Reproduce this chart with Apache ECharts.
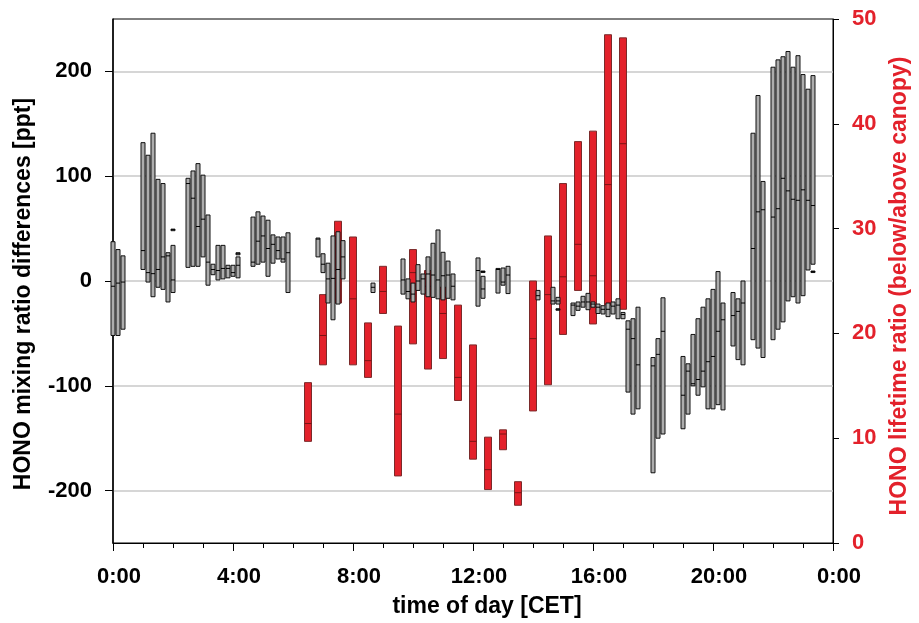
<!DOCTYPE html>
<html>
<head>
<meta charset="utf-8">
<script src="https://cdn.jsdelivr.net/npm/echarts@6/dist/echarts.min.js"></script>
<style>
  html, body { margin: 0; padding: 0; background: #fff; }
  #chart { width: 919px; height: 623px; }
</style>
</head>
<body>
<div id="chart"></div>
<script>
// gray boxes: HONO mixing ratio differences [ppt] (left axis)
const grayTime = [0, 0.167, 0.333,
  1, 1.167, 1.333, 1.5, 1.667, 1.833, 2, 2,
  2.5, 2.667, 2.833, 3, 3.167, 3.333, 3.5, 3.667, 3.833, 4, 4.167, 4.167,
  4.667, 4.833, 5, 5.167, 5.333, 5.5, 5.667, 5.833,
  6.833, 7, 7.167, 7.333, 7.5, 7.667,
  8.667,
  9.667, 9.833, 10, 10.167, 10.333, 10.5, 10.667, 10.833, 11, 11.167, 11.333,
  12.167, 12.333, 12.333, 12.833, 13, 13.167,
  14.167, 14.667, 14.833, 14.833, 15.333, 15.5, 15.667, 15.833, 16, 16.167, 16.333, 16.5, 16.667, 16.833, 17, 17.167, 17.333, 17.5,
  18, 18.167, 18.333,
  19, 19.167, 19.333, 19.5, 19.667, 19.833, 20, 20.167, 20.333, 20.667, 20.833, 21,
  21.333, 21.5, 21.667, 22, 22.167, 22.333, 22.5, 22.667, 22.833, 23, 23.167, 23.333, 23.333];
const grayLow = [-52, -52, -46,
  11, -1, -15, -6, -8, -20, -11, 48,
  13, 14, 14, 23, -4, 6, 1, 2, 3, 4.5, 3, 25,
  14, 16, 18, 4.5, 17, 21, 18, -11,
  23, 8, -21, -37, -22, 2,
  -11,
  -12.5, -17, -20, -9, -12.5, -15, -15.6, -17, -18, -16.5, -18,
  -24, -16.5, 8.5, -11.5, -4, -12,
  -18, -22, -22, -27.5, -33, -28, -25, -27.4, -25, -31, -31.5, -34, -31.5, -36, -36, -106, -127, -122,
  -183, -150, -146,
  -141, -127, -100, -109, -101, -122, -122, -118, -123, -62, -75, -80,
  -56, -64, -73, -56, -46, -39, -19, -15, -21, -14, 10.5, 16, 8.5];
const grayHigh = [37.5, 30, 24,
  132, 120, 141, 97, 93, 27, 34, 49.5,
  98, 105, 112, 101, 63, 16, 34, 34, 15, 15, 23, 27,
  61, 66, 62, 58, 44, 42, 42, 46,
  41, 26, 17, 43, 47, 38.5,
  -2,
  21, 2, -2, 15.6, 6.7, 23, 36, 48.7, 27.4, 19, 6.7,
  22, 4.5, 9.5, 12, 12.4, 14,
  -9, -6, -15.6, -26.5, -21, -20, -14.6, -11.8, -20, -22, -23.6, -21, -20, -17, -30, -38, -36, -25,
  -73, -55, -16,
  -72, -79, -51, -36, -25, -17, -8, 9, -21, -11, -17, 0,
  141, 177, 95, 204, 211, 214, 219, 204, 215, 197, 183, 196, 9.5];
const grayMed = [-5, -2, -1,
  29, 8, 7, 11, 23, 24, 1, 49,
  93, 79, 52, 59, 18, 11, 10, 12, 12, 8, 15, 26,
  18, 38, 43, 31, 35, 29, 21, 27,
  40, 16, 2, 2.5, 11, 23,
  -6,
  1, -10, -12.5, 0, 2, 6.7, 5.7, 1, 5, 5.7, -5,
  10, -7.6, 9, 11, -1, 5.7,
  -14, -19, -19, -27, -23, -24, -20, -20, -22, -25, -27, -27, -24, -23, -32, -46, -55, -80,
  -81, -70, -48,
  -109, -86, -98, -94, -86, -77, -72, -48, -37, -33, -29, -21,
  31, 66, 68, 61, 69, 98, 86, 78, 77, 87, 77, 72, 9];

// red boxes: HONO lifetime ratio (below/above canopy) (right axis)
const redTime = [6.5, 7, 7.5, 8, 8.5, 9, 9.5, 10, 10.5, 11, 11.5,
  12, 12.5, 13, 13.5, 14, 14.5, 15, 15.5, 16, 16.5, 17];
const redLow = [9.7, 17.0, 22.9, 17.0, 15.8, 21.9, 6.4, 19.0, 16.6, 17.6, 13.6,
  8.0, 5.1, 8.9, 3.6, 12.6, 15.1, 19.9, 24.1, 20.9, 22.7, 22.3];
const redHigh = [15.3, 23.7, 30.7, 29.2, 21.0, 26.4, 20.7, 28.0, 26.0, 24.4, 22.7,
  18.9, 10.1, 10.8, 5.85, 25.0, 29.3, 34.3, 38.3, 39.3, 48.5, 48.2];
const redMed = [11.4, 19.8, 26.0, 23.3, 17.4, 24.0, 12.3, 25.8, 24.5, 21.9, 15.8,
  9.7, 7.0, 10.4, 4.8, 19.5, 23.7, 25.4, 28.5, 25.5, 34.2, 38.1];

const leftTicks = [-200, -100, 0, 100, 200];

function zip(t, lo, hi, md) {
  return t.map((v, i) => [v, lo[i], hi[i], md[i]]);
}

function boxRenderer(width, fill, stroke, medColor) {
  return function (params, api) {
    const x = api.value(0);
    const top = api.coord([x, api.value(2)]);
    const bot = api.coord([x, api.value(1)]);
    const mid = api.coord([x, api.value(3)]);
    const w = width;
    const h = Math.max(bot[1] - top[1], 1.5);
    return {
      type: 'group',
      children: [
        {
          type: 'rect',
          shape: { x: top[0] - w / 2, y: top[1], width: w, height: h },
          style: { fill: fill, stroke: stroke, lineWidth: 1 }
        },
        {
          type: 'line',
          shape: { x1: top[0] - w / 2, y1: mid[1], x2: top[0] + w / 2, y2: mid[1] },
          style: { stroke: medColor, lineWidth: 1 }
        }
      ]
    };
  };
}

const font = 'Liberation Sans, Arial, sans-serif';
const red = '#e3212b';

const chart = echarts.init(document.getElementById('chart'));
chart.setOption({
  animation: false,
  backgroundColor: '#fff',
  grid: { left: 113, right: 81, top: 19, bottom: 80, show: true, borderColor: '#000', borderWidth: 1 },
  xAxis: {
    type: 'value', min: 0, max: 24, interval: 4,
    name: 'time of day [CET]', nameLocation: 'middle', nameGap: 52,
    nameTextStyle: { fontFamily: font, fontWeight: 'bold', fontSize: 23, color: '#000', padding: [0, 0, 0, 28] },
    axisLine: { onZero: false, lineStyle: { color: '#000', width: 1.2 } },
    axisTick: { length: 8, lineStyle: { color: '#000' } },
    minorTick: { show: true, splitNumber: 4, length: 5, lineStyle: { color: '#000' } },
    splitLine: { show: false },
    axisLabel: {
      margin: 23, fontFamily: font, fontWeight: 'bold', fontSize: 22, color: '#000',
      padding: [0, 0, 0, 12],
      formatter: v => (v % 24) + ':00'
    }
  },
  yAxis: [
    {
      type: 'value', min: -250, max: 250,
      name: 'HONO mixing ratio differences [ppt]', nameLocation: 'middle', nameGap: 78, nameRotate: 90,
      nameTextStyle: { fontFamily: font, fontWeight: 'bold', fontSize: 23, color: '#000', padding: [0, 26, 0, 0] },
      axisLine: { show: true, onZero: false, lineStyle: { color: '#000', width: 1.5 } },
      axisTick: { show: true, length: 8, customValues: leftTicks, lineStyle: { color: '#000' } },
      axisLabel: { customValues: leftTicks, margin: 21, fontFamily: font, fontWeight: 'bold', fontSize: 22, color: '#000' },
      splitLine: { show: true, lineStyle: { color: '#c8c8c8', width: 1.5 } }
    },
    {
      type: 'value', min: 0, max: 50, interval: 10, position: 'right',
      name: 'HONO lifetime ratio (below/above canopy)', nameLocation: 'middle', nameGap: 55, nameRotate: 90,
      nameTextStyle: { fontFamily: font, fontWeight: 'bold', fontSize: 23, color: red, padding: [0, 10, 0, 0] },
      axisLine: { show: true, onZero: false, lineStyle: { color: '#000', width: 1 } },
      axisTick: { show: true, length: 6, lineStyle: { color: '#000' } },
      axisLabel: { margin: 19, fontFamily: font, fontWeight: 'bold', fontSize: 22, color: red },
      splitLine: { show: false }
    }
  ],
  series: [
    {
      type: 'custom', yAxisIndex: 1, z: 2,
      renderItem: boxRenderer(7, red, '#7a2a2a', '#7a1515'),
      encode: { x: 0, y: [1, 2, 3] },
      data: zip(redTime, redLow, redHigh, redMed)
    },
    {
      type: 'custom', yAxisIndex: 0, z: 3,
      renderItem: boxRenderer(4, '#adadad', '#111', '#000'),
      encode: { x: 0, y: [1, 2, 3] },
      data: zip(grayTime, grayLow, grayHigh, grayMed)
    }
  ]
});
</script>
</body>
</html>
